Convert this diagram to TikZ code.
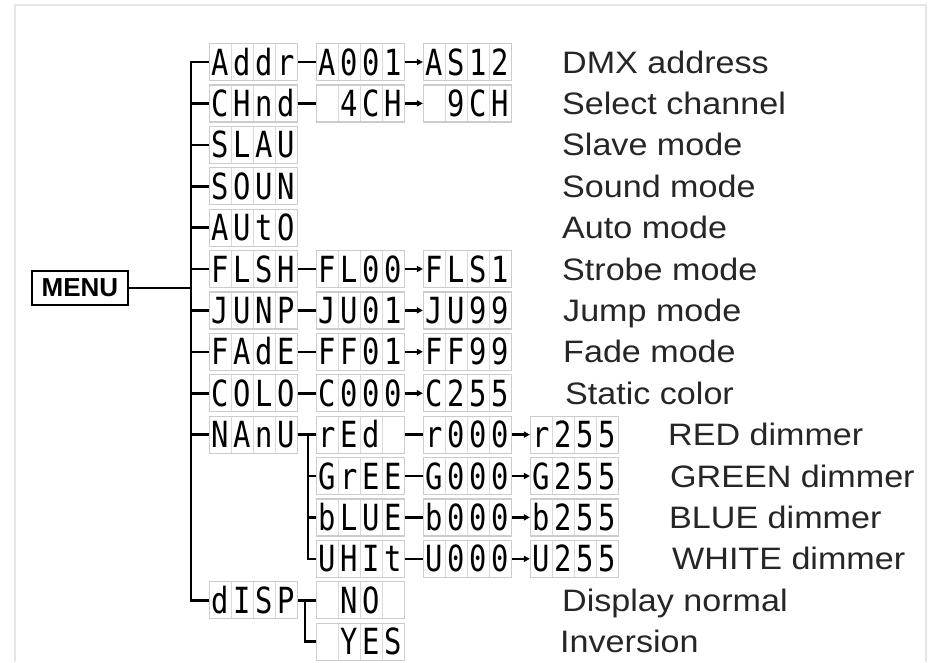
\documentclass[tikz,border=0pt]{standalone}
\usepackage{fontspec}
\setmainfont{Liberation Sans}
\newfontfamily\labelfont[FakeStretch=1.1]{Liberation Sans}
\newfontfamily\menufont{Liberation Sans}
\newfontfamily\lcdfont[FakeStretch=0.8]{DejaVu Sans Mono}
\usetikzlibrary{arrows.meta}
% one character per display cell
\newcommand\lcdcells[4]{\makebox[22pt]{#1}\makebox[22pt]{#2}\makebox[22pt]{#3}\makebox[22pt]{#4}}

\begin{document}
\begin{tikzpicture}[
    x=1pt,
    y=-1pt,
    wire/.style={line width=2.6pt, black},
    stepto/.style={wire, -{Triangle[length=6pt, width=6pt]}},
    lcd/.style={draw=gray!40, line width=1.2pt, minimum width=88pt, minimum height=37pt,
        inner sep=0pt, text height=26pt, text depth=0pt,
        font=\lcdfont\fontsize{36}{36}\selectfont,
        path picture={\foreach \k in {1,2,3}
            \draw[gray!30, line width=0.8pt]
                ([xshift=\k*22pt]path picture bounding box.north west) --
                ([xshift=\k*22pt]path picture bounding box.south west);}},
    menubox/.style={draw, line width=2.5pt, fill=white, minimum width=96pt, minimum height=34pt,
        inner sep=0pt, font=\menufont\bfseries\fontsize{26}{26}\selectfont},
    lbl/.style={anchor=base west, inner sep=0pt, text=black!85,
        font=\labelfont\fontsize{31}{34}\selectfont}
]
\useasboundingbox (0,0) rectangle (932,662);
\draw[gray!20, line width=1.5pt] (15,662) -- (15,5) -- (926,5) -- (926,662);

\node[menubox] (menu) at (80,288) {MENU};
\coordinate (trunk) at (191,288);

% main menu column
\node[lcd] (m0) at (253.5,62) {\lcdcells Addr};
\node[lcd] (m1) at (253.5,103.4) {\lcdcells CHnd};
\node[lcd] (m2) at (253.5,144.8) {\lcdcells SLAU};
\node[lcd] (m3) at (253.5,186.2) {\lcdcells SOUN};
\node[lcd] (m4) at (253.5,227.6) {\lcdcells AUtO};
\node[lcd] (m5) at (253.5,269) {\lcdcells FLSH};
\node[lcd] (m6) at (253.5,310.4) {\lcdcells JUNP};
\node[lcd] (m7) at (253.5,351.8) {\lcdcells FAdE};
\node[lcd] (m8) at (253.5,393.2) {\lcdcells COLO};
\node[lcd] (m9) at (253.5,434.6) {\lcdcells NAnU};
\node[lcd] (m13) at (253.5,600.2) {\lcdcells dISP};

% second column
\node[lcd] (s0) at (360.5,62) {\lcdcells A001};
\node[lcd] (s1) at (360.5,103.4) {\lcdcells {}4CH};
\node[lcd] (s5) at (360.5,269) {\lcdcells FL00};
\node[lcd] (s6) at (360.5,310.4) {\lcdcells JU01};
\node[lcd] (s7) at (360.5,351.8) {\lcdcells FF01};
\node[lcd] (s8) at (360.5,393.2) {\lcdcells C000};
\node[lcd] (s9) at (360.5,434.6) {\lcdcells rEd{}};
\node[lcd] (s10) at (360.5,476) {\lcdcells GrEE};
\node[lcd] (s11) at (360.5,517.4) {\lcdcells bLUE};
\node[lcd] (s12) at (360.5,558.8) {\lcdcells UHIt};
\node[lcd] (s13) at (360.5,600.2) {\lcdcells {}NO{}};
\node[lcd] (s14) at (360.5,641.6) {\lcdcells {}YES};

% third column
\node[lcd] (t0) at (467.5,62) {\lcdcells AS12};
\node[lcd] (t1) at (467.5,103.4) {\lcdcells {}9CH};
\node[lcd] (t5) at (467.5,269) {\lcdcells FLS1};
\node[lcd] (t6) at (467.5,310.4) {\lcdcells JU99};
\node[lcd] (t7) at (467.5,351.8) {\lcdcells FF99};
\node[lcd] (t8) at (467.5,393.2) {\lcdcells C255};
\node[lcd] (t9) at (467.5,434.6) {\lcdcells r000};
\node[lcd] (t10) at (467.5,476) {\lcdcells G000};
\node[lcd] (t11) at (467.5,517.4) {\lcdcells b000};
\node[lcd] (t12) at (467.5,558.8) {\lcdcells U000};

% dimmer end values
\node[lcd] (u9) at (574.5,434.6) {\lcdcells r255};
\node[lcd] (u10) at (574.5,476) {\lcdcells G255};
\node[lcd] (u11) at (574.5,517.4) {\lcdcells b255};
\node[lcd] (u12) at (574.5,558.8) {\lcdcells U255};

% tree lines
\draw[wire] (menu.east) -- (trunk);
\draw[wire] (m0.west) -| (trunk) |- (m13.west);
\foreach \i in {1,...,9} {
    \draw[wire] (m\i.west) -- (m\i.west -| trunk);
}
\foreach \i in {0,1,5,6,7,8,9,13} {
    \draw[wire] (m\i.east) -- (s\i.west);
}
\foreach \i in {0,1,5,6,7,8} {
    \draw[stepto] (s\i.east) -- (t\i.west);
}
\coordinate (manuj) at (308,434.6);
\draw[wire] (manuj) |- (s12.west);
\draw[wire] (s10.west) -- (s10.west -| manuj);
\draw[wire] (s11.west) -- (s11.west -| manuj);
\foreach \i in {9,...,12} {
    \draw[wire] (s\i.east) -- (t\i.west);
    \draw[stepto] (t\i.east) -- (u\i.west);
}
\coordinate (dispj) at (305,600.2);
\draw[wire] (dispj) |- (s14.west);

% descriptions
\foreach \i/\x/\t in {0/562/DMX address, 1/562/Select channel, 2/562/Slave mode,
    3/562/Sound mode, 4/562/Auto mode, 5/562/Strobe mode, 6/563/Jump mode,
    7/563/Fade mode, 8/565/Static color, 9/668/RED dimmer, 10/670/GREEN dimmer,
    11/669/BLUE dimmer, 12/672/WHITE dimmer, 13/562/Display normal, 14/560/Inversion} {
    \node[lbl] (l\i) at (\x,{73+41.4*\i}) {\t};
}
\end{tikzpicture}
\end{document}
